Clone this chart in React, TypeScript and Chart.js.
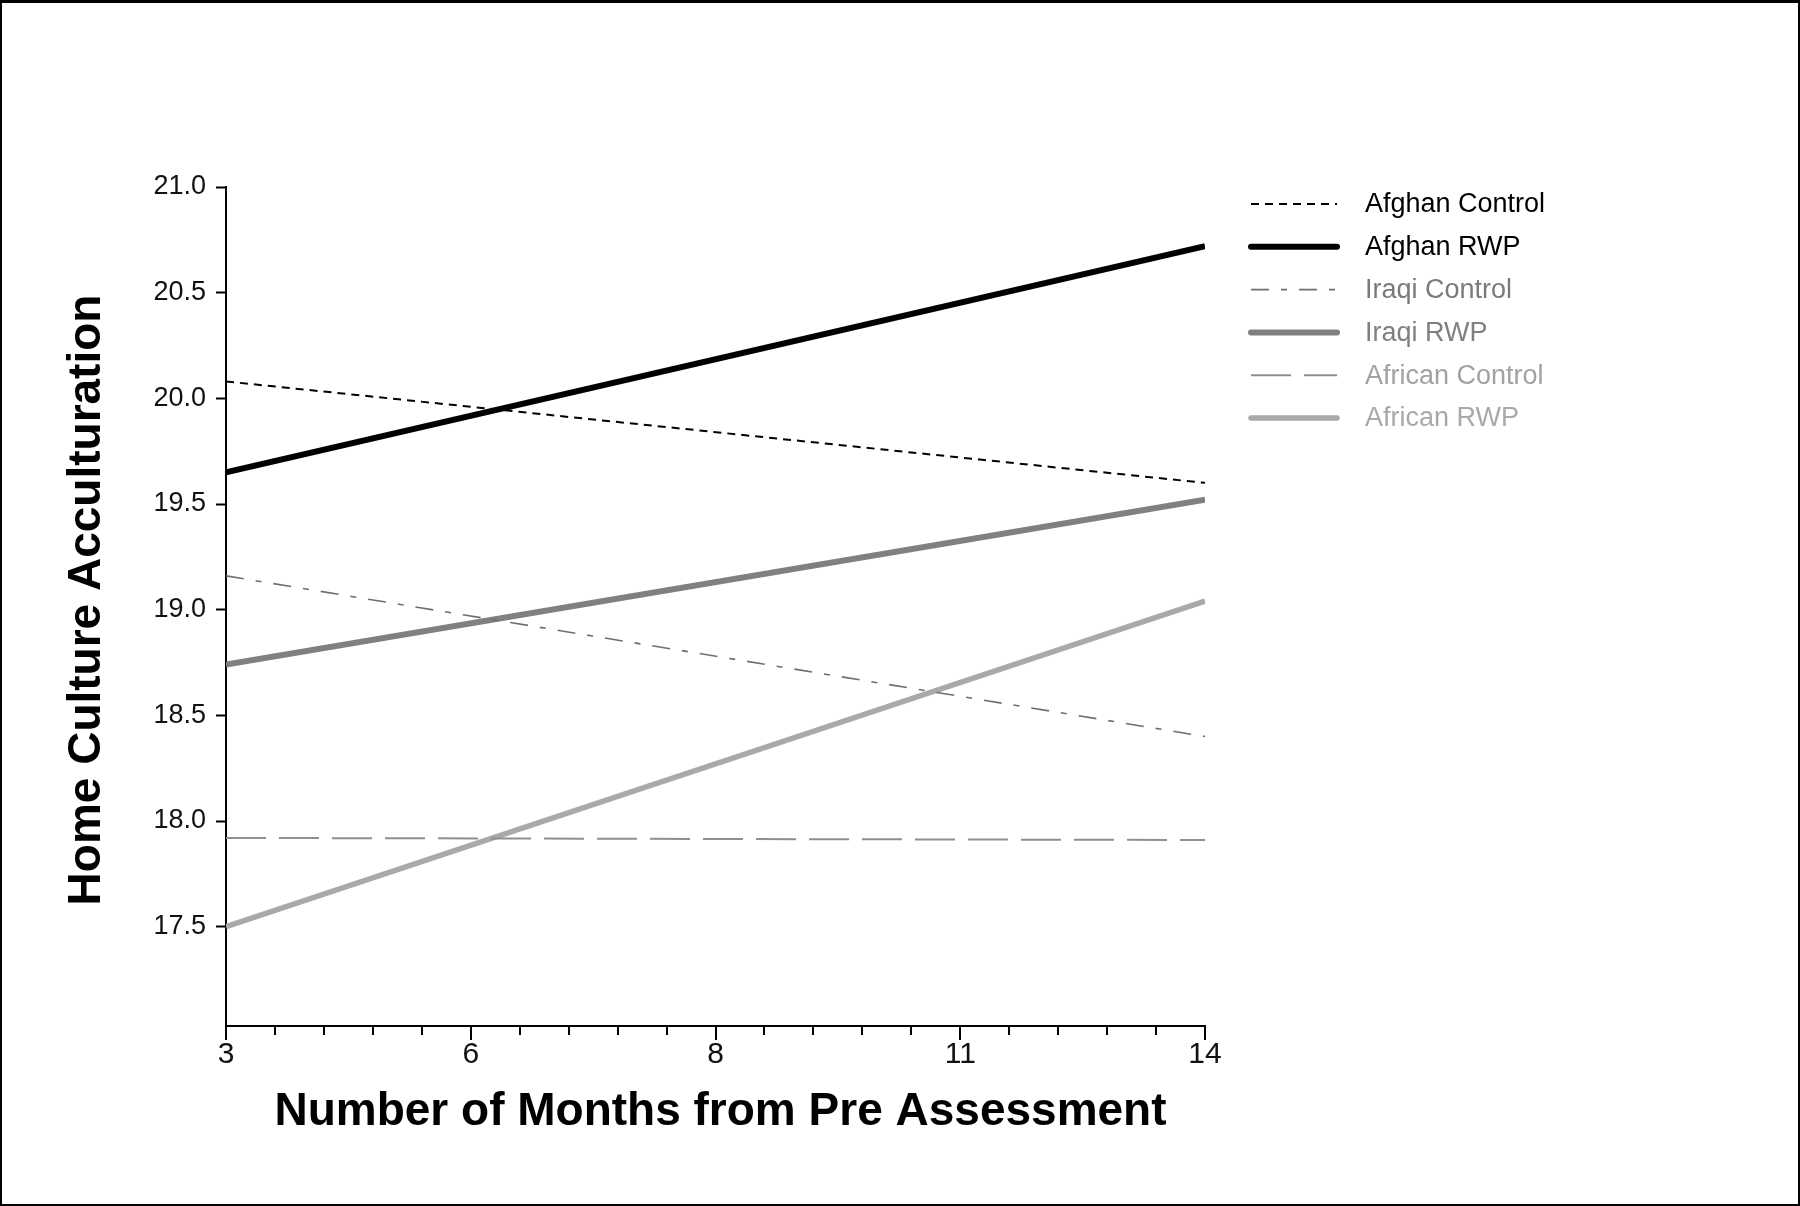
import React, { useEffect, useRef } from 'react';
import { Chart, registerables } from 'chart.js';

Chart.register(...registerables);

// ---- data ----
const months = [3, 14];
const xTickLabels = ['3', '6', '8', '11', '14'];
const yTickValues = [17.5, 18.0, 18.5, 19.0, 19.5, 20.0, 20.5, 21.0];
const seriesNames = ['Afghan Control', 'Afghan RWP', 'Iraqi Control', 'Iraqi RWP', 'African Control', 'African RWP'];
const afghanControl = [20.08, 19.6];
const afghanRWP = [19.65, 20.72];
const iraqiControl = [19.16, 18.4];
const iraqiRWP = [18.74, 19.52];
const africanControl = [17.92, 17.91];
const africanRWP = [17.5, 19.04];
const seriesValues = [afghanControl, afghanRWP, iraqiControl, iraqiRWP, africanControl, africanRWP];

const X_MIN = 3;
const X_MAX = 14;
const Y_MIN = 17.03;
const Y_MAX = 21.0;
const MINOR_PER_MAJOR = 5;

// ---- styles ----
const seriesStyles = [
  { color: '#000000', width: 2, dash: [8, 6], text: '#000000' },
  { color: '#000000', width: 6, dash: [] as number[], text: '#000000' },
  { color: '#6e6e6e', width: 1.6, dash: [18, 12, 6, 12], text: '#7a7a7a' },
  { color: '#808080', width: 6, dash: [] as number[], text: '#808080' },
  { color: '#8f8f8f', width: 2, dash: [40, 13], text: '#a2a2a2' },
  { color: '#a9a9a9', width: 5.5, dash: [] as number[], text: '#a9a9a9' },
];

const FONT = '"Liberation Sans", Arial, sans-serif';

const majorValues = xTickLabels.map((_, i) => X_MIN + (i * (X_MAX - X_MIN)) / (xTickLabels.length - 1));

const decorPlugin = {
  id: 'decor',
  afterDraw(chart: any) {
    const ctx = chart.ctx as CanvasRenderingContext2D;
    const xs = chart.scales.x;
    const area = chart.chartArea;
    ctx.save();
    // frame
    ctx.strokeStyle = '#000';
    ctx.lineWidth = 2;
    ctx.setLineDash([]);
    ctx.strokeRect(1, 1, chart.width - 2, chart.height - 2);
    ctx.lineWidth = 3;
    ctx.beginPath();
    ctx.moveTo(0, 1.5);
    ctx.lineTo(chart.width, 1.5);
    ctx.stroke();

    // x ticks major + minor
    ctx.lineWidth = 2;
    const step = (X_MAX - X_MIN) / ((xTickLabels.length - 1) * MINOR_PER_MAJOR);
    const n = (xTickLabels.length - 1) * MINOR_PER_MAJOR;
    for (let k = 0; k <= n; k++) {
      const px = Math.round(xs.getPixelForValue(X_MIN + k * step));
      const len = k % MINOR_PER_MAJOR === 0 ? 14 : 9;
      ctx.beginPath();
      ctx.moveTo(px, area.bottom);
      ctx.lineTo(px, area.bottom + len);
      ctx.stroke();
    }

    // axis titles
    ctx.fillStyle = '#000';
    ctx.font = `bold 46px ${FONT}`;
    ctx.textAlign = 'center';
    ctx.textBaseline = 'alphabetic';
    ctx.fillText('Number of Months from Pre Assessment', (area.left + area.right) / 2 + 5, 1125);

    ctx.save();
    ctx.translate(100, 600);
    ctx.rotate(-Math.PI / 2);
    ctx.font = `bold 46px ${FONT}`;
    ctx.fillText('Home Culture Acculturation', 0, 0);
    ctx.restore();

    // legend
    const legX0 = 1251;
    const legX1 = 1337;
    const textX = 1365;
    const rowY0 = 204;
    const rowStep = 42.8;
    ctx.font = `27px ${FONT}`;
    ctx.textAlign = 'left';
    ctx.textBaseline = 'middle';
    seriesNames.forEach((name, i) => {
      const st = seriesStyles[i];
      const y = rowY0 + i * rowStep;
      ctx.strokeStyle = st.color;
      ctx.lineWidth = st.width;
      ctx.lineCap = st.dash.length ? 'butt' : 'round';
      ctx.setLineDash(st.dash);
      ctx.beginPath();
      ctx.moveTo(legX0, y);
      ctx.lineTo(legX1, y);
      ctx.stroke();
      ctx.setLineDash([]);
      ctx.fillStyle = st.text;
      ctx.fillText(name, textX, y + 1);
    });
    ctx.restore();
  },
};

export default function App() {
  const ref = useRef<HTMLCanvasElement | null>(null);

  useEffect(() => {
    document.body.style.margin = '0';
    const canvas = ref.current;
    if (!canvas) return;
    const datasets = seriesNames.map((name, i) => ({
      label: name,
      data: months.map((m, j) => ({ x: m, y: seriesValues[i][j] })),
      borderColor: seriesStyles[i].color,
      backgroundColor: seriesStyles[i].color,
      borderWidth: seriesStyles[i].width,
      borderDash: seriesStyles[i].dash,
      pointRadius: 0,
      fill: false,
      tension: 0,
      showLine: true,
    }));
    const chart = new Chart(canvas, {
      type: 'line',
      data: { datasets },
      plugins: [decorPlugin],
      options: {
        responsive: false,
        animation: false,
        devicePixelRatio: 1,
        layout: { padding: { top: 187, right: 595, bottom: 0, left: 0 } },
        plugins: { legend: { display: false }, tooltip: { enabled: false }, title: { display: false } },
        scales: {
          x: {
            type: 'linear',
            min: X_MIN,
            max: X_MAX,
            afterBuildTicks: (s: any) => {
              s.ticks = majorValues.map((v) => ({ value: v }));
            },
            afterFit: (s: any) => {
              s.height = 180;
            },
            grid: { drawOnChartArea: false, drawTicks: false },
            border: { display: true, color: '#000', width: 2 },
            ticks: {
              autoSkip: false,
              maxRotation: 0,
              padding: 11,
              color: '#111',
              font: { family: FONT, size: 30 },
              callback: (_v: any, i: number) => xTickLabels[i],
            },
          },
          y: {
            type: 'linear',
            min: Y_MIN,
            max: Y_MAX,
            afterBuildTicks: (s: any) => {
              s.ticks = yTickValues.map((v) => ({ value: v }));
            },
            afterFit: (s: any) => {
              s.width = 226;
            },
            grid: { drawOnChartArea: false, drawTicks: true, tickLength: 10, tickWidth: 2, tickColor: '#000' },
            border: { display: true, color: '#000', width: 2 },
            ticks: {
              autoSkip: false,
              padding: 10,
              color: '#111',
              font: { family: FONT, size: 27 },
              callback: (v: any) => Number(v).toFixed(1),
            },
          },
        },
      } as any,
    });
    return () => chart.destroy();
  }, []);

  return (
    <div style={{ width: 1800, height: 1206, background: '#fff' }}>
      <canvas ref={ref} width={1800} height={1206} style={{ display: 'block' }} />
    </div>
  );
}
